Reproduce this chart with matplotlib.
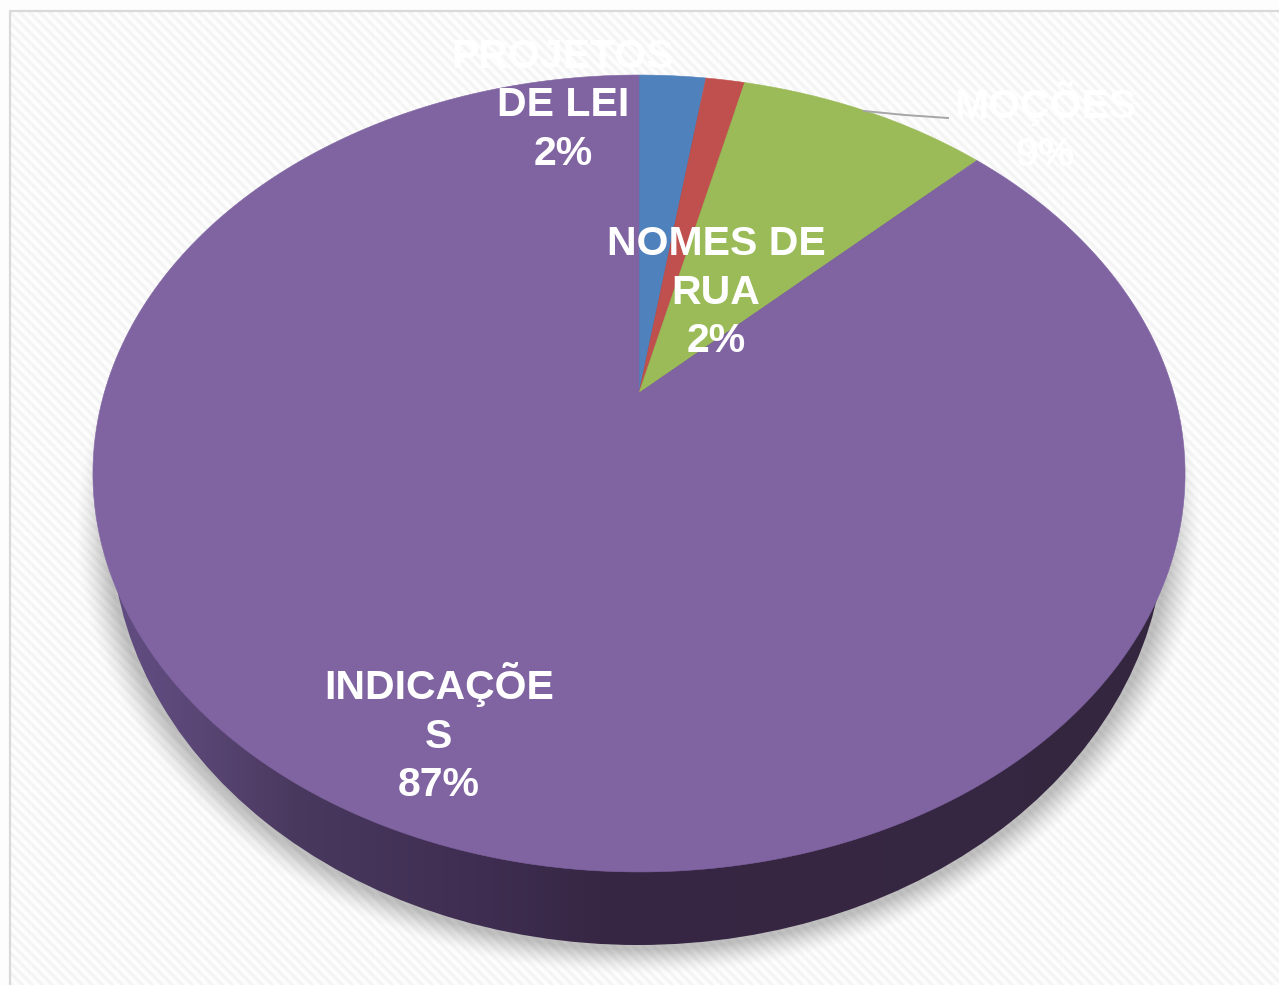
import numpy as np
import matplotlib
matplotlib.use('Agg')
import matplotlib.pyplot as plt
from matplotlib.colors import LinearSegmentedColormap
from matplotlib.patches import Ellipse

# Dati del grafico
categorie = [['PROJETOS', 'DE LEI'], ['NOMES DE', 'RUA'], ['MOÇÕES'], ['INDICAÇÕE', 'S']]
valori = [2.4, 1.4, 9.0, 87.2]
percentuali = ['2%', '2%', '9%', '87%']
colori = ['#4f81bd', '#c0504d', '#9bbb59', '#8064a2']

W, H = 1279, 985

# Geometria della torta in prospettiva (pixel)
apice_x, apice_y = 639, 393
a, b, k = 534.8, 382.2, 0.202


def proietta(x, y):
    s = 1 + k * y
    return apice_x + a * x / s, apice_y - b * y / s


fig = plt.figure(figsize=(W / 100, H / 100), dpi=100)
ax = fig.add_axes([0, 0, 1, 1])
ax.set_xlim(0, W)
ax.set_ylim(H, 0)
ax.axis('off')

# Sfondo a righe diagonali
yy, xx = np.mgrid[0:H, 0:W]
righe = 0.5 + 0.5 * np.sin(2 * np.pi * (xx - yy) / 10)
sfondo = 0.955 + 0.04 * righe
sfondo[((xx - 31) % 86 == 0) | ((yy - 17) % 86 == 0)] += 0.006
sfondo[:10, :] = 0.992
sfondo[:, :9] = 0.992
ax.imshow(sfondo, cmap='gray', vmin=0, vmax=1, extent=(0, W, H, 0), aspect='auto', zorder=0)
ax.plot([9.5, 9.5, W], [H, 10.5, 10.5], color='#d9d9d9', lw=1.6, zorder=1)

# Ombra sotto la torta
cx_b, cy_b, rx_b, ry_b = 638, 525, 527, 420
d = np.sqrt(((xx - cx_b) / (rx_b + 4)) ** 2 + ((yy - cy_b - 2) / (ry_b + 2)) ** 2)
forza = np.clip((1.06 - d) / 0.06, 0, 1) ** 1.4 * 0.32
ombra = np.zeros((H, W, 4))
ombra[..., :3] = 0.25
ombra[..., 3] = forza
ax.imshow(ombra, extent=(0, W, H, 0), aspect='auto', zorder=2)

# Parete laterale con sfumatura
cmap_parete = LinearSegmentedColormap.from_list(
    'parete', [(0, '#624d82'), (0.07, '#5c4878'), (0.17, '#4a395f'), (0.36, '#3e2d50'),
               (0.46, '#372744'), (1, '#352640')])
parete = ax.imshow(np.linspace(0, 1, W).reshape(1, -1), cmap=cmap_parete, vmin=0, vmax=1,
                   extent=(110, 1170, H, 0), aspect='auto', zorder=3)
clip = Ellipse((cx_b, cy_b), 2 * rx_b, 2 * ry_b, transform=ax.transData)
parete.set_clip_path(clip)
ax.set_xlim(0, W)
ax.set_ylim(H, 0)

# Fette della torta
fine = np.cumsum(valori) / np.sum(valori) * 2 * np.pi
inizio = np.concatenate(([0], fine[:-1]))
for a0, a1, colore in zip(inizio, fine, colori):
    t = np.linspace(a0, a1, 400)
    px, py = proietta(np.sin(t), np.cos(t))
    ax.fill(np.r_[apice_x, px], np.r_[apice_y, py], facecolor=colore, edgecolor=colore, lw=0.4, zorder=4)

# Linea guida
ax.plot([864, 905, 948], [111, 115, 118], color='#a6a6a6', lw=1.4, zorder=5)

# Etichette (una riga alla volta, dalla linea di base)
pos_etichette = [(563, 68), (716, 255), (1045, 118), (439, 699)]
interlinea = 48.5
for righe_testo, perc, (x, y) in zip(categorie, percentuali, pos_etichette):
    for i, riga in enumerate(righe_testo + [perc]):
        ax.text(x, y + i * interlinea, riga, color='white', fontsize=29.5, fontweight='bold',
                family='Liberation Sans', ha='center', va='baseline', zorder=6)

fig.savefig('out.png', dpi=100)
